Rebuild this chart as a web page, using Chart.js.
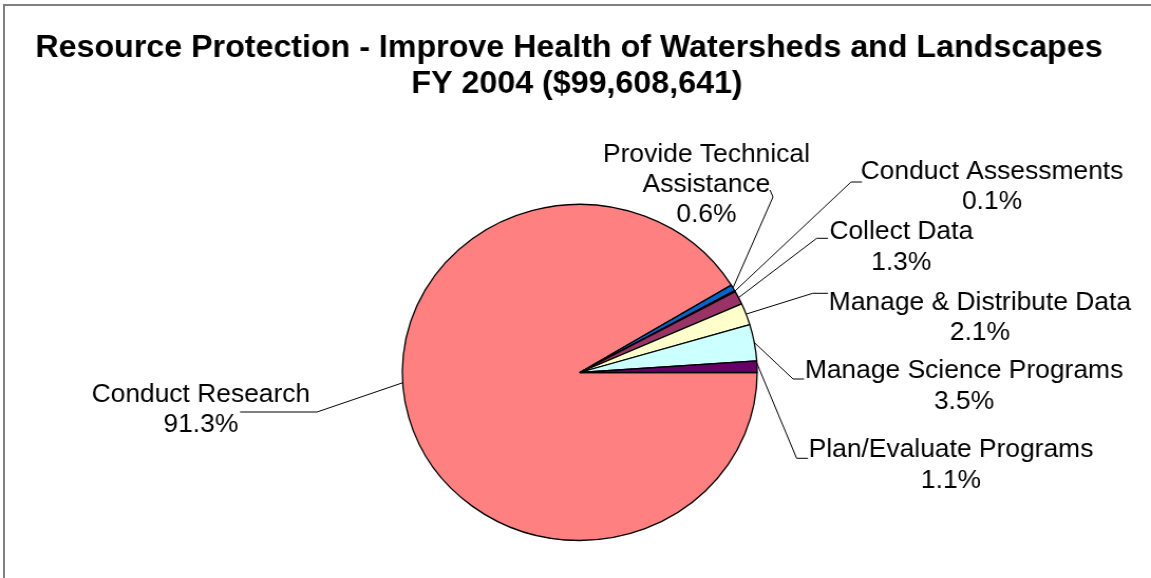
<!DOCTYPE html>
<html>
<head>
<meta charset="utf-8">
<script src="https://cdn.jsdelivr.net/npm/chart.js@4/dist/chart.umd.min.js"></script>
<style>
  html, body { margin: 0; padding: 0; background: #ffffff; overflow: hidden; }
  #wrap { position: relative; width: 1151px; height: 578px; }
  #frame { position: absolute; left: 3px; top: 4px; width: 1300px; height: 700px;
           border-left: 2px solid #808080; border-top: 2px solid #808080; pointer-events: none; }
  #c { position: absolute; left: 0; top: 0; width: 1151px; height: 578px; }
</style>
</head>
<body>
<div id="wrap">
  <canvas id="c" width="1090" height="578" style="width:1151px;height:578px"></canvas>
  <div id="frame"></div>
</div>
<script>
// ---- data ----
const categories = ['Conduct Research', 'Provide Technical Assistance', 'Conduct Assessments',
  'Collect Data', 'Manage & Distribute Data', 'Manage Science Programs', 'Plan/Evaluate Programs'];
const values = [91.3, 0.6, 0.1, 1.3, 2.1, 3.5, 1.1];
const sliceColors = ['#FF8080', '#0066CC', '#9999FF', '#993366', '#FFFFCC', '#CCFFFF', '#660066'];
const nameLines = [['Conduct Research'], ['Provide Technical', 'Assistance'], ['Conduct Assessments'],
  ['Collect Data'], ['Manage & Distribute Data'], ['Manage Science Programs'], ['Plan/Evaluate Programs']];
const titleLines = ['Resource Protection - Improve Health of Watersheds and Landscapes', 'FY 2004 ($99,608,641)'];

// ---- layout (canvas coordinates) ----
const labelLayout = [
  { cx: 190.2, y0: 401.7, frac: 0.537, elbow: [300.2, 412], end: [227.3, 412] },
  { cx: 669.0, y0: 161.7, frac: 0.5, elbow: [732.0, 197], end: [729.2, 190] },
  { cx: 939.4, y0: 179.0, frac: 0.5, elbow: [805.9, 182], end: [816.3, 182] },
  { cx: 853.5, y0: 239.3, frac: 0.5, elbow: [773.4, 238.3], end: [784.1, 238.3] },
  { cx: 928.0, y0: 310.0, frac: 0.5, elbow: [769.6, 293.3], end: [784.1, 293.3] },
  { cx: 912.9, y0: 378.3, frac: 0.5, elbow: [751.0, 379], end: [761.4, 379] },
  { cx: 900.6, y0: 457.3, frac: 0.2, elbow: [754.4, 458.3], end: [765.2, 458.3] }
];
const lineGap = 30.2;
const titleLayout = [{ cx: 538.8, y: 57 }, { cx: 546.4, y: 93 }];
const FONT = '"Liberation Sans", Arial, Helvetica, sans-serif';

const calloutPlugin = {
  id: 'callouts',
  afterDatasetsDraw(chart) {
    const ctx = chart.ctx;
    const arcs = chart.getDatasetMeta(0).data;
    ctx.save();
    // title
    ctx.fillStyle = '#000';
    ctx.textAlign = 'center';
    ctx.textBaseline = 'alphabetic';
    ctx.font = 'bold 30.5px ' + FONT;
    titleLines.forEach((t, i) => ctx.fillText(t, titleLayout[i].cx, titleLayout[i].y));
    // leader lines + labels
    ctx.strokeStyle = '#000';
    ctx.lineWidth = 1;
    ctx.font = '25px ' + FONT;
    arcs.forEach((arc, i) => {
      const p = arc.getProps(['x', 'y', 'startAngle', 'endAngle', 'outerRadius'], true);
      const L = labelLayout[i];
      const a = p.startAngle + L.frac * (p.endAngle - p.startAngle);
      const sx = p.x + Math.cos(a) * p.outerRadius;
      const sy = p.y + Math.sin(a) * p.outerRadius;
      ctx.beginPath();
      ctx.moveTo(sx, sy);
      ctx.lineTo(L.elbow[0], L.elbow[1]);
      ctx.lineTo(L.end[0], L.end[1]);
      ctx.stroke();
      const lines = nameLines[i].concat([values[i].toFixed(1) + '%']);
      lines.forEach((t, k) => ctx.fillText(t, L.cx, L.y0 + k * lineGap));
    });
    ctx.restore();
  }
};

new Chart(document.getElementById('c'), {
  type: 'pie',
  data: {
    labels: categories,
    datasets: [{
      data: values,
      backgroundColor: sliceColors,
      borderColor: '#000000',
      borderWidth: 1.3,
      radius: 168
    }]
  },
  options: {
    responsive: false,
    animation: false,
    rotation: 90,
    layout: { padding: { left: 8, right: 0, top: 177, bottom: 10 } },
    plugins: {
      legend: { display: false },
      title: { display: false },
      tooltip: { enabled: false }
    }
  },
  plugins: [calloutPlugin]
});
</script>
</body>
</html>
